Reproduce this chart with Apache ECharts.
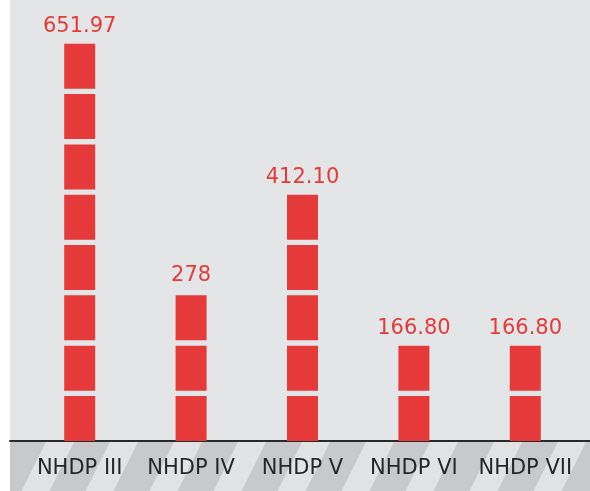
<!DOCTYPE html>
<html>
<head>
<meta charset="utf-8">
<script src="https://cdn.jsdelivr.net/npm/echarts@6/dist/echarts.min.js"></script>
<style>
  html, body { margin: 0; padding: 0; background: #fff; }
  #chart { width: 590px; height: 491px; }
</style>
</head>
<body>
<div id="chart"></div>
<script>
const categories = ['NHDP III', 'NHDP IV', 'NHDP V', 'NHDP VI', 'NHDP VII']
const values = [651.97, 278, 412.10, 166.80, 166.80]
const valueLabels = ['651.97', '278', '412.10', '166.80', '166.80']

const RED = '#e63a3a'
const FONT = 'DejaVu Sans'

// diagonal stripes for the band under the axis
function stripePattern () {
  const c = document.createElement('canvas')
  c.width = 64
  c.height = 128
  const ctx = c.getContext('2d')
  ctx.fillStyle = '#e2e3e5'
  ctx.fillRect(0, 0, 64, 128)
  ctx.fillStyle = '#c8c9cb'
  for (let s = -128; s <= 128; s += 64) {
    ctx.beginPath()
    ctx.moveTo(s, 128)
    ctx.lineTo(s + 64, 0)
    ctx.lineTo(s + 100, 0)
    ctx.lineTo(s + 36, 128)
    ctx.closePath()
    ctx.fill()
  }
  return c
}

const chart = echarts.init(document.getElementById('chart'))
chart.setOption({
  animation: false,
  backgroundColor: '#fff',
  grid: [
    { left: 24, right: 9, top: 0, bottom: 50 },
    { left: 10, right: 0, top: 0, bottom: 50, show: true, backgroundColor: '#e4e5e7', borderWidth: 0 }
  ],
  graphic: [
    {
      type: 'rect',
      left: 10,
      bottom: 0,
      shape: { width: 580, height: 49 },
      style: { fill: { image: stripePattern(), repeat: 'repeat' } }
    }
  ],
  xAxis: [
    {
      type: 'category',
      gridIndex: 0,
      data: categories,
      axisLine: { show: false },
      axisTick: { show: false },
      axisLabel: { color: '#262626', fontSize: 21, fontFamily: FONT, margin: 17, interval: 0, hideOverlap: false }
    },
    {
      type: 'category',
      gridIndex: 1,
      data: categories,
      axisLine: { show: true, lineStyle: { color: '#2a2a2a', width: 2 } },
      axisTick: { show: false },
      axisLabel: { show: false }
    }
  ],
  yAxis: [
    { type: 'value', gridIndex: 0, min: 0, max: 814, show: false, splitLine: { show: false } },
    { type: 'value', gridIndex: 1, show: false, splitLine: { show: false } }
  ],
  series: [
    {
      type: 'pictorialBar',
      xAxisIndex: 0,
      yAxisIndex: 0,
      symbol: 'rect',
      symbolRepeat: true,
      symbolSize: [31, 45],
      symbolMargin: '3!',
      symbolBoundingData: 743,
      symbolOffset: [0, 2.64],
      itemStyle: { color: RED },
      label: {
        show: true,
        position: 'top',
        distance: 4,
        color: RED,
        fontSize: 21,
        fontFamily: FONT,
        formatter: p => valueLabels[p.dataIndex]
      },
      data: values
    }
  ]
})
</script>
</body>
</html>
